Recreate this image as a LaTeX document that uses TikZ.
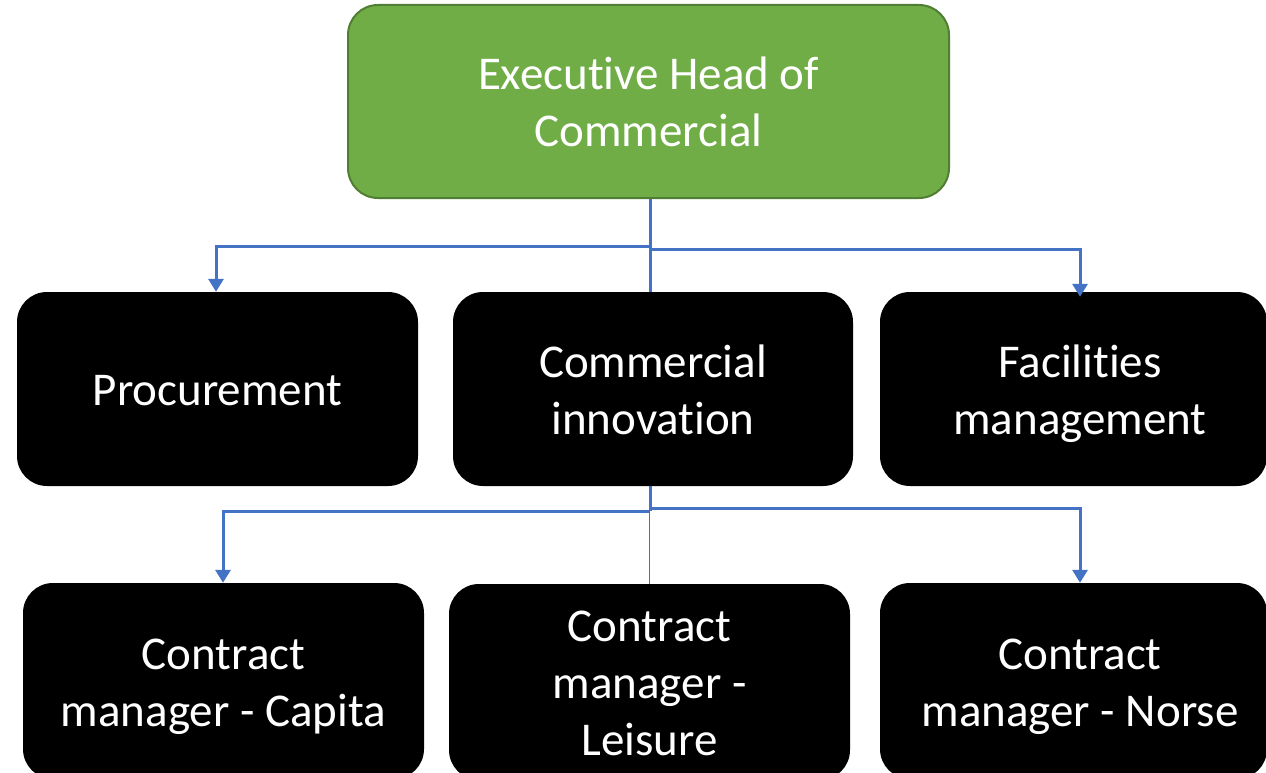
\documentclass[tikz,border=0pt]{standalone}
\usepackage{fontspec}
\setmainfont{Carlito}[Ligatures=NoCommon]
\usetikzlibrary{arrows.meta}
\definecolor{exgreen}{HTML}{70AD47}
\definecolor{exgreenb}{HTML}{507E32}
\definecolor{conblue}{HTML}{4472C4}
\newcommand\zs{\rule[-12pt]{0pt}{57pt}}
\newcommand\zr{\zs\hspace*{13pt}}
\tikzset{
  box/.style={rectangle, rounded corners=30pt, fill=black, text=white, align=center,
    inner sep=0pt, font=\fontsize{47}{57}\selectfont},
  headbox/.style={box, fill=exgreen, draw=exgreenb, line width=2pt},
  conn/.style={draw=conblue, line width=3pt},
  thinconn/.style={draw=conblue, line width=1pt},
  arr/.style={conn, -{Triangle[length=13pt,width=15pt]}}
}
\begin{document}
\begin{tikzpicture}[x=1pt,y=-1pt]
\useasboundingbox (0,0) rectangle (1266,773);
\clip (0,0) rectangle (1266,773);
\fill[white] (0,0) rectangle (1266,773);
% nodes
\node[headbox, minimum width=601pt, minimum height=193pt] (top) at (648.5,101.5) {\zs Executive Head of\\\zs Commercial};
\node[box, minimum width=401pt, minimum height=194pt] (proc) at (217.5,389) {\zs Procurement};
\node[box, minimum width=400pt, minimum height=194pt] (ci) at (653,389) {\zs Commercial\\\zs innovation};
\node[box, minimum width=387pt, minimum height=194pt] (fac) at (1073.5,389) {\zr Facilities\\\zr management};
\node[box, minimum width=401pt, minimum height=196pt] (cap) at (223.5,681) {\zs Contract\\\zs manager - Capita};
\node[box, minimum width=401pt, minimum height=196pt] (lei) at (649.5,682) {\zs Contract\\\zs manager -\\\zs Leisure};
\node[box, minimum width=387pt, minimum height=196pt] (nor) at (1073.5,681) {\zr Contract\\\zr manager - Norse};
% coordinates
\coordinate (ja) at (650,246);
\coordinate (jb) at (650,249);
\coordinate (jc) at (650,511);
\coordinate (jd) at (650,508);
% top level connectors
\draw[conn] (top.south -| ja) -- (ci.north -| ja);
\draw[arr] (ja) -| ([xshift=-1.5pt]proc.north);
\draw[arr] (jb) -| ([xshift=6.5pt,yshift=-5pt]fac.north);
% second level connectors
\draw[conn] (ci.south -| jc) -- (jc);
\draw[arr] (jc) -| ([xshift=-0.5pt]cap.north);
\draw[arr] (jd) -| ([xshift=6.5pt]nor.north);
\draw[thinconn] ([xshift=-1pt]jc) -- ([xshift=-1pt]lei.north -| jc);
\end{tikzpicture}
\end{document}
